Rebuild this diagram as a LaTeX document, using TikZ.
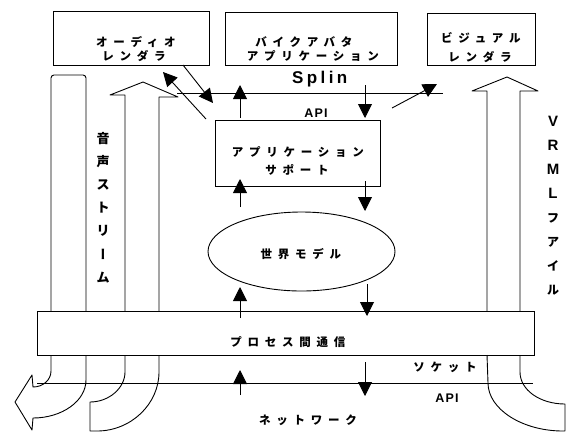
\documentclass[tikz,border=0pt]{standalone}
\usepackage{fontspec}
\setmainfont{Liberation Sans}
\newfontfamily\jp[LetterSpace=50]{Noto Sans CJK JP}
\newfontfamily\jpv{Noto Sans CJK JP}
\newfontfamily\splinfont[LetterSpace=20]{Liberation Sans}
\newfontfamily\apifont[LetterSpace=10]{Liberation Sans}
\usetikzlibrary{arrows.meta,shapes.geometric}
\newcommand\jt[1]{#1\kern-0.5em}
\tikzset{
  ln/.style={line width=0.9pt, line join=round},
  box/.style={draw, line width=0.9pt, inner sep=0pt},
  jtxt/.style={font=\fontsize{11.5}{14}\selectfont\jp\bfseries, inner sep=0pt},
  jbold/.style={font=\fontsize{11.5}{14}\selectfont\jp\bfseries, inner sep=0pt},
  arr/.style={line width=0.9pt, -{Triangle[length=14pt,width=14pt]}},
  apitxt/.style={font=\fontsize{12.5}{14}\selectfont\apifont\bfseries, inner sep=0pt},
}
\begin{document}
\begin{tikzpicture}[x=1pt,y=-1pt]
\useasboundingbox (0,0) rectangle (577,432);
% boxes
\node[box, minimum width=156pt, minimum height=54pt] (aud) at (131,38) {};
\node[box, minimum width=172pt, minimum height=53pt] (bike) at (311,38.5) {};
\node[box, minimum width=108pt, minimum height=52pt] (vis) at (481,39) {};
\node[box, minimum width=165pt, minimum height=66pt] (sup) at (297.5,153) {};
\node[box, ellipse, minimum width=187pt, minimum height=79pt] (world) at (301.5,251.5) {};
\node[box, minimum width=497pt, minimum height=44pt] (ipc) at (285.5,333) {};
% texts
\node[jtxt] (audt1) at (133,42) {\jt{オーディオ}};
\node[jtxt] (audt2) at (131,56) {\jt{レンダラ}};
\node[jtxt] (bike1) at (301,42) {\jt{バイクアバタ}};
\node[jtxt] (bike2) at (310,56) {\jt{アプリケーション}};
\node[jtxt] (vis1) at (478,38) {\jt{ビジュアル}};
\node[jtxt] (vis2) at (477,57) {\jt{レンダラ}};
\node[jtxt] (sup1) at (295,152) {\jt{アプリケーション}};
\node[jtxt] (sup2) at (294,170) {\jt{サポート}};
\node[jbold] (worldt) at (298,254) {\jt{世界モデル}};
\node[jbold] (ipct) at (285,342) {\jt{プロセス間通信}};
\node[jtxt] (sock) at (442,367) {\jt{ソケット}};
\node[jtxt] (net) at (305,420) {\jt{ネットワーク}};
\node[font=\fontsize{17}{20}\selectfont\splinfont\bfseries, inner sep=0pt] (splin) at (318,79) {Splin\kern-0.2em};
\node[apitxt] (api1) at (316,113) {API};
\node[apitxt] (api2) at (447,398) {API};
\node[font=\fontsize{13}{23.2}\selectfont\jpv\bfseries, align=center, inner sep=0pt] (voice) at (103,207.5)
  {音\\声\\ス\\ト\\リ\\{\addfontfeature{RawFeature=+vert}ー}\\ム};
\node[font=\fontsize{15}{24}\selectfont\bfseries, align=center, inner sep=0pt] (vrml) at (553,206)
  {V\\R\\M\\L\\{\jpv\bfseries\fontsize{12}{24}\selectfont フ}\\{\jpv\bfseries\fontsize{12}{24}\selectfont ア}\\{\jpv\bfseries\fontsize{12}{24}\selectfont イ}\\{\jpv\bfseries\fontsize{12}{24}\selectfont ル}};
% columns above the process box
\draw[ln, rounded corners=3pt] (51,311) -- (51,75) -- (86,75) -- (86,311);
\draw[ln] (125,311) -- (125,95) -- (110,95) -- (143,82) -- (178,97) -- (159,97) -- (159,311);
\draw[ln] (487,311) -- (487,91) -- (472,91) -- (507,77) -- (538,91) -- (520,91) -- (520,311);
% tails below the process box
\draw[ln] (51,355) -- (51,371) .. controls (51,380) and (43,387) .. (33,387)
  -- (32,375) -- (15,402) -- (32,430) -- (33,418)
  .. controls (62,418) and (86,401) .. (86,380) -- (86,355);
\draw[ln] (125,355) -- (125,372) .. controls (125,388) and (109,402) .. (90,402) -- (90,431) -- (97,431)
  .. controls (131,431) and (159,404) .. (159,372) -- (159,355);
\draw[ln] (487,355) -- (488,383) .. controls (488,409) and (522,431) .. (563,431) -- (565,431) -- (565,404)
  .. controls (540,404) and (520,390) .. (520,372) -- (520,355);
% horizontal interface lines
\coordinate (apiL) at (177,93);
\coordinate (apiR) at (443,93);
\draw[ln] (apiL) -- (apiR);
\coordinate (sockL) at (37,383);
\coordinate (sockR) at (533,383);
\draw[ln] (sockL) -- (sockR);
% arrows
\coordinate (d1s) at (183,65);  \coordinate (d1e) at (213,103);
\coordinate (d2s) at (206,119); \coordinate (d2e) at (163,72);
\coordinate (d3s) at (392,108); \coordinate (d3e) at (437,84);
\draw[arr] (d1s) -- (d1e);
\draw[arr] (d2s) -- (d2e);
\draw[arr] (d3s) -- (d3e);
\coordinate (u1s) at (240,118); \coordinate (u1e) at (240,85);
\coordinate (v1s) at (365,85);  \coordinate (v1e) at (365,118);
\coordinate (u2s) at (240,207); \coordinate (u2e) at (240,179);
\coordinate (v2s) at (365,181); \coordinate (v2e) at (365,211);
\coordinate (u3s) at (240,318); \coordinate (u3e) at (240,287);
\coordinate (v3s) at (367,284); \coordinate (v3e) at (367,316);
\coordinate (u4s) at (240,395); \coordinate (u4e) at (240,370);
\coordinate (v4s) at (365,362); \coordinate (v4e) at (365,396);
\draw[arr] (u1s) -- (u1e);
\draw[arr] (v1s) -- (v1e);
\draw[arr] (u2s) -- (u2e);
\draw[arr] (v2s) -- (v2e);
\draw[arr] (u3s) -- (u3e);
\draw[arr] (v3s) -- (v3e);
\draw[arr] (u4s) -- (u4e);
\draw[arr] (v4s) -- (v4e);
\end{tikzpicture}
\end{document}
